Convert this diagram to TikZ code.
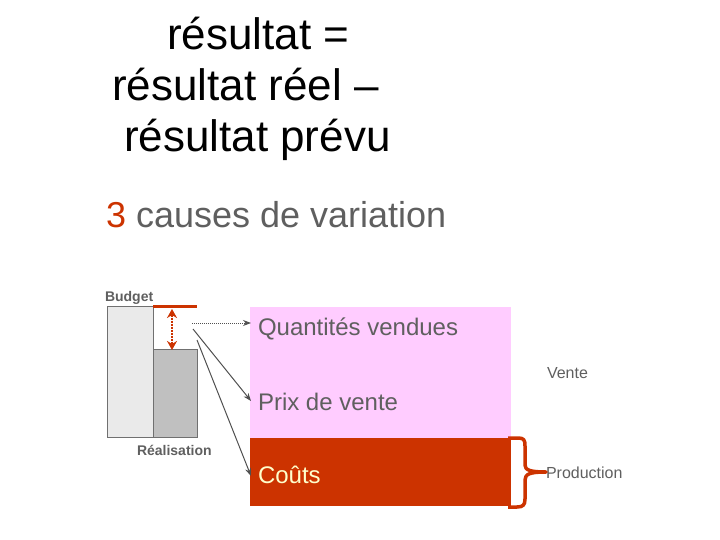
\documentclass[tikz,border=0pt]{standalone}
\usepackage{fontspec}
\setmainfont{Liberation Sans}
\usetikzlibrary{arrows.meta}
\definecolor{pinkbox}{HTML}{FFCCFF}
\definecolor{redbox}{HTML}{CC3300}
\definecolor{txtgray}{HTML}{5F5F5F}
\definecolor{cream}{HTML}{FFFFCC}
\definecolor{barlight}{HTML}{EAEAEA}
\definecolor{bardark}{HTML}{C0C0C0}
\definecolor{barline}{HTML}{707070}
\definecolor{arrgray}{HTML}{505050}
\tikzset{
  lbl/.style={anchor=base west, inner sep=0pt, outer sep=0pt},
  titletxt/.style={lbl, font=\fontsize{44}{50}\selectfont, text=black},
  boxtxt/.style={lbl, font=\fontsize{24}{28}\selectfont, text=txtgray},
  smalltxt/.style={lbl, font=\fontsize{16}{18}\selectfont, text=txtgray},
  boldtxt/.style={lbl, font=\bfseries\fontsize{14}{16}\selectfont, text=txtgray},
  conn/.style={draw=arrgray, line width=1pt, -{Stealth[length=8pt,width=6pt]}},
  bar/.style={draw=barline, line width=1pt},
}
\begin{document}
\begin{tikzpicture}[x=1pt,y=-1pt]
\useasboundingbox (0,0) rectangle (720,540);
% title
\node[titletxt] (t1) at (167,50) {résultat =};
\node[titletxt] (t2) at (112,101) {résultat réel –};
\node[titletxt] (t3) at (124,152) {résultat prévu};
\node[lbl, font=\fontsize{36}{40}\selectfont, text=txtgray] (sub) at (106,227) {\textcolor{redbox}{3} causes de variation};
% bars
\draw[bar, fill=barlight] (107,306) rectangle (153,437);
\draw[bar, fill=bardark] (153,349) rectangle (197,437);
\draw[redbox, line width=3pt] (153,306) -- (197,306);
\coordinate (ta) at (172,309);
\coordinate (tb) at (172,350);
\draw[redbox, line width=2pt, densely dotted, {Stealth[length=9pt,width=10pt]}-{Stealth[length=9pt,width=10pt]}] (ta) -- (tb);
\node[boldtxt] (budget) at (105,301) {Budget};
\node[boldtxt] (real) at (137,455) {Réalisation};
% boxes
\fill[pinkbox] (250,307) rectangle (511,438);
\fill[redbox] (250,438) rectangle (511,506);
\node[boxtxt] (qv) at (258,335) {Quantités vendues};
\node[boxtxt] (pv) at (258,410) {Prix de vente};
\node[boxtxt, text=cream] (co) at (258,483) {Coûts};
\node[smalltxt] (vente) at (547,378) {Vente};
\node[smalltxt] (prod) at (546,478) {Production};
% connectors
\coordinate (s1) at (192,323);
\coordinate (s2) at (193,329);
\coordinate (s3) at (197,340);
\coordinate (e1) at (251,323);
\coordinate (e2) at (251,401);
\coordinate (e3) at (251,476);
\draw[conn, densely dotted] (s1) -- (e1);
\draw[conn] (s2) -- (e2);
\draw[conn] (s3) -- (e3);
% brace
\coordinate (tip) at (546,472);
\draw[redbox, line width=3.5pt, line join=round]
  (508,438) -- (518,438) .. controls (524,438) and (525,440) .. (525,446)
  -- (525,465) .. controls (525,470) and (530,472) .. (tip)
  .. controls (530,472) and (525,474) .. (525,480)
  -- (525,499) .. controls (525,505) and (523,507) .. (517,507) -- (508,507);
\end{tikzpicture}
\end{document}
